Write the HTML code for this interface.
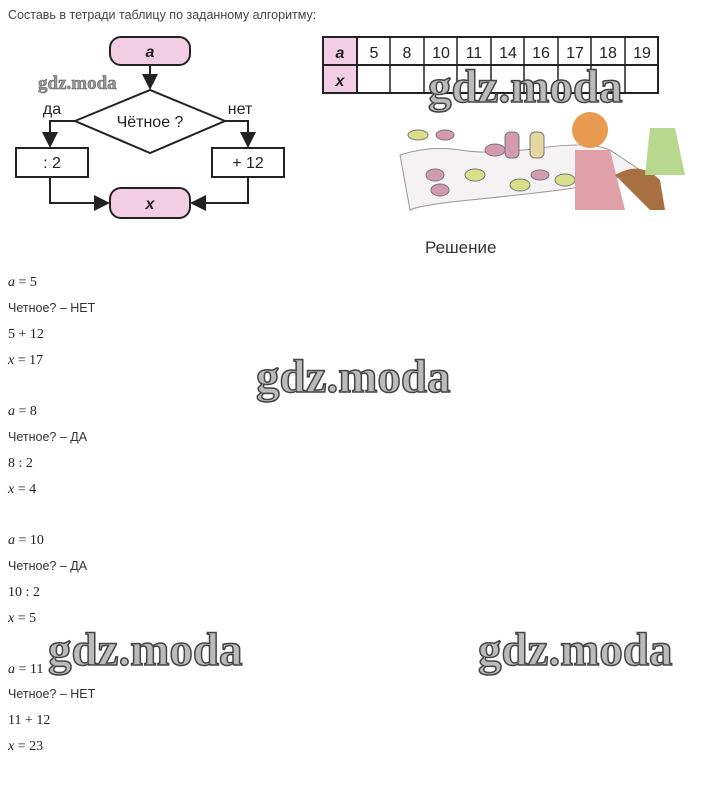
<!DOCTYPE html>
<html><head><meta charset="utf-8"><style>
body{margin:0;width:720px;height:808px;background:#fff;position:relative;overflow:hidden;font-family:"Liberation Sans",sans-serif;}
.a{position:absolute;white-space:nowrap}
.m{font-family:"Liberation Serif",serif;font-size:14px;color:#222;left:8px}
.m i{font-style:italic}
.s{font-size:12.5px;color:#333;left:8px}
.wm{font-family:"Liberation Serif",serif;font-weight:bold;font-size:47px;color:#bbb;-webkit-text-stroke:1.5px #444;letter-spacing:0px}
</style></head><body>
<div class="a" style="left:8px;top:8px;font-size:12.5px;color:#444">Составь в тетради таблицу по заданному алгоритму:</div>
<svg class="a" style="left:0;top:0" width="720" height="230">
<defs><marker id="ar" markerWidth="8" markerHeight="8" refX="7" refY="4" orient="auto"><path d="M0,0L8,4L0,8z" fill="#222"/></marker></defs>
<g stroke="#222" stroke-width="2" fill="none">
<rect x="110" y="37" width="80" height="28" rx="11" fill="#f2cde3"/>
<rect x="110" y="188" width="80" height="30" rx="11" fill="#f2cde3"/>
<path d="M150,65V88" marker-end="url(#ar)"/>
<path d="M75,121L150,90L225,121L150,153Z" fill="#fff"/>
<path d="M75,121H50V146" marker-end="url(#ar)"/>
<path d="M225,121H248V146" marker-end="url(#ar)"/>
<rect x="16" y="148" width="72" height="29" fill="#fff"/>
<rect x="212" y="148" width="72" height="29" fill="#fff"/>
<path d="M50,177V203H108" marker-end="url(#ar)"/>
<path d="M248,177V203H192" marker-end="url(#ar)"/>
</g>
<g font-family="Liberation Sans" font-size="16" fill="#222" text-anchor="middle">
<text x="150" y="57" font-weight="bold" font-style="italic">a</text>
<text x="150" y="209" font-weight="bold" font-style="italic">x</text>
<text x="150" y="127">Чётное ?</text>
<text x="52" y="114">да</text>
<text x="240" y="114">нет</text>
<text x="52" y="168">: 2</text>
<text x="248" y="168">+ 12</text>
</g>
<text x="38" y="89" font-family="Liberation Serif" font-weight="bold" font-size="19" fill="#999" stroke="#555" stroke-width=".5">gdz.moda</text>
<g stroke="#222" stroke-width="2">
<rect x="323" y="37" width="335" height="56" fill="#fff"/>
<rect x="323" y="37" width="34" height="56" fill="#f2cde3"/>
<path d="M323,65H658"/>
<path d="M357,37V93M390,37V93M424,37V93M457,37V93M491,37V93M524,37V93M558,37V93M591,37V93M625,37V93" stroke-width="1.5"/>
</g>
<g font-family="Liberation Sans" font-size="16" fill="#222" text-anchor="middle">
<text x="340" y="58" font-weight="bold" font-style="italic">a</text>
<text x="340" y="86" font-weight="bold" font-style="italic">x</text>
<text x="374" y="58">5</text><text x="407" y="58">8</text><text x="441" y="58">10</text><text x="474" y="58">11</text><text x="508" y="58">14</text><text x="541" y="58">16</text><text x="575" y="58">17</text><text x="608" y="58">18</text><text x="642" y="58">19</text>
</g>
<path d="M400,155 Q430,145 460,150 T540,148 T610,150 L640,170 Q600,185 560,190 T470,200 T410,210Z" fill="#f4f2f2" stroke="#999"/>
<g fill="#d8e08a" stroke="#777"><ellipse cx="418" cy="135" rx="10" ry="5"/><ellipse cx="475" cy="175" rx="10" ry="6"/><ellipse cx="520" cy="185" rx="10" ry="6"/><ellipse cx="565" cy="180" rx="10" ry="6"/></g>
<g fill="#d49ab0" stroke="#777"><ellipse cx="445" cy="135" rx="9" ry="5"/><ellipse cx="435" cy="175" rx="9" ry="6"/><ellipse cx="440" cy="190" rx="9" ry="6"/><ellipse cx="495" cy="150" rx="10" ry="6"/><ellipse cx="540" cy="175" rx="9" ry="5"/><rect x="505" y="132" width="14" height="26" rx="5"/></g>
<rect x="530" y="132" width="14" height="26" rx="5" fill="#e2d8a0" stroke="#777"/>
<circle cx="590" cy="130" r="18" fill="#e89a50"/><path d="M575,150 L610,150 L625,210 L575,210Z" fill="#e0a0a8"/><path d="M615,175 Q640,160 660,180 L665,210 L650,210Z" fill="#a87040"/>
<path d="M650,128 L675,128 L685,175 L645,175Z" fill="#b8d890"/>
</svg>
<div class="a" style="left:425px;top:238px;font-size:17px;color:#333">Решение</div>
<div class="a m" style="top:275px"><i>a</i> = 5</div>
<div class="a s" style="top:301px">Четное? – НЕТ</div>
<div class="a m" style="top:327px">5 + 12</div>
<div class="a m" style="top:353px"><i>x</i> = 17</div>
<div class="a m" style="top:404px"><i>a</i> = 8</div>
<div class="a s" style="top:430px">Четное? – ДА</div>
<div class="a m" style="top:456px">8 : 2</div>
<div class="a m" style="top:482px"><i>x</i> = 4</div>
<div class="a m" style="top:533px"><i>a</i> = 10</div>
<div class="a s" style="top:559px">Четное? – ДА</div>
<div class="a m" style="top:585px">10 : 2</div>
<div class="a m" style="top:611px"><i>x</i> = 5</div>
<div class="a m" style="top:662px"><i>a</i> = 11</div>
<div class="a s" style="top:687px">Четное? – НЕТ</div>
<div class="a m" style="top:713px">11 + 12</div>
<div class="a m" style="top:739px"><i>x</i> = 23</div>
<div class="a wm" style="left:256px;top:350px">gdz.moda</div>
<div class="a wm" style="left:48px;top:623px">gdz.moda</div>
<div class="a wm" style="left:478px;top:623px">gdz.moda</div>
<div class="a wm" style="left:428px;top:60px">gdz.moda</div>
</body></html>
